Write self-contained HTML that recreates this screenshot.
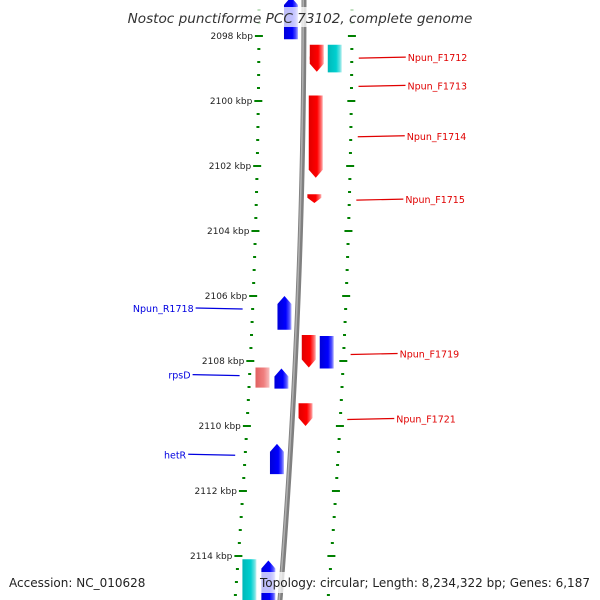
<!DOCTYPE html>
<html><head><meta charset="utf-8"><style>
body{margin:0;background:#fff;}
svg{display:block;font-family:"DejaVu Sans","Liberation Sans",sans-serif;}
</style></head><body>
<svg id="map" width="600" height="600" viewBox="0 0 600 600" xmlns="http://www.w3.org/2000/svg">
<defs>
<linearGradient id="gred" x1="0" x2="1"><stop offset="0" stop-color="#e00000"/><stop offset="0.6" stop-color="#ff0000"/><stop offset="0.85" stop-color="#ff6060"/><stop offset="1" stop-color="#ffb0b0"/></linearGradient>
<linearGradient id="gblue" x1="0" x2="1"><stop offset="0" stop-color="#0000d8"/><stop offset="0.6" stop-color="#0000ff"/><stop offset="0.85" stop-color="#5050ff"/><stop offset="1" stop-color="#b0b0ff"/></linearGradient>
<linearGradient id="gcyan" x1="0" x2="1"><stop offset="0" stop-color="#00b8b8"/><stop offset="0.6" stop-color="#00d0d0"/><stop offset="0.85" stop-color="#60e0e0"/><stop offset="1" stop-color="#c0f0f0"/></linearGradient>
<linearGradient id="gpink" x1="0" x2="1"><stop offset="0" stop-color="#e06060"/><stop offset="0.6" stop-color="#f08080"/><stop offset="1" stop-color="#f8c0c0"/></linearGradient>
</defs>
<g id="ticks"></g>
<path id="backbone" fill="none" stroke="#808080" stroke-width="5"/>
<path id="backbone-hl" fill="none" stroke="#b0b0b0" stroke-width="1.5"/>
<g id="genes"></g>
<g id="labels"></g>
<rect x="122" y="7" width="356" height="20" fill="#fff" opacity="0.75"/>
<text x="300" y="23" text-anchor="middle" font-size="13.6" font-style="italic" fill="#333">Nostoc punctiforme PCC 73102, complete genome</text>
<text x="9" y="587" font-size="12" fill="#222">Accession: NC_010628</text>
<rect x="258" y="572" width="334" height="21" fill="#fff" opacity="0.75"/>
<text x="260" y="587" font-size="12" fill="#222" textLength="330" lengthAdjust="spacingAndGlyphs">Topology: circular; Length: 8,234,322 bp; Genes: 6,187</text>
</svg>
<script>
// data
const majorTicks = [2098, 2100, 2102, 2104, 2106, 2108, 2110, 2112, 2114];
const tickLabels = ["2098 kbp","2100 kbp","2102 kbp","2104 kbp","2106 kbp","2108 kbp","2110 kbp","2112 kbp","2114 kbp"];
const geneStart = [2096.8, 2098.27, 2098.27, 2098.63, 2099.83, 2102.87, 2106.0, 2107.2, 2107.23, 2108.2, 2108.23, 2109.3, 2110.55, 2114.1, 2114.14];
const geneEnd   = [2098.1, 2099.1, 2099.12, 2098.87, 2102.36, 2103.14, 2107.04, 2108.2, 2108.23, 2108.82, 2108.85, 2110.0, 2111.48, 2115.5, 2115.5];
const geneStrand = [1, -1, 0, -1, -1, -1, 1, -1, 0, 0, 1, -1, 1, 0, 1];
const geneColor = ["blue","red","cyan","red","red","red","blue","red","blue","pink","blue","red","blue","cyan","blue"];
const geneLane = [-1, 1, 2, 1, 1, 1, -1, 1, 2, -2, -1, 1, -1, -2, -1];
const labelNames = ["Npun_F1712","Npun_F1713","Npun_F1714","Npun_F1715","Npun_R1718","Npun_F1719","rpsD","Npun_F1721","hetR"];
const labelKbp = [2098.68, 2099.55, 2101.1, 2103.05, 2106.4, 2107.8, 2108.45, 2109.8, 2110.9];
const labelSide = [1, 1, 1, 1, -1, 1, -1, 1, -1];

const NS = "http://www.w3.org/2000/svg";
const yOf = k => 36 + (k - 2098) * 32.5;
const bbX = y => 304 - 24 * Math.pow(y / 600, 2);
function mk(tag, attrs, parent){ const e = document.createElementNS(NS, tag); for (const a in attrs) e.setAttribute(a, attrs[a]); parent.appendChild(e); return e; }

// backbone
let d = "", d2 = "";
for (let y = -5; y <= 605; y += 5) {
  d += (d ? "L" : "M") + bbX(y).toFixed(2) + "," + y;
  d2 += (d2 ? "L" : "M") + (bbX(y) - 0.8).toFixed(2) + "," + y;
}
document.getElementById("backbone").setAttribute("d", d);
document.getElementById("backbone-hl").setAttribute("d", d2);

// ticks
const tg = document.getElementById("ticks");
for (let k = 2096; k <= 2116.01; k += 0.4) {
  const y = yOf(k);
  if (y < 0 || y > 600) continue;
  const major = Math.abs(Math.round(k / 2) * 2 - k) < 0.01;
  const w = major ? 8 : 3;
  for (const off of [-45, 48]) {
    const x = bbX(y) + off;
    const r = mk("rect", {x: x - w / 2, y: y - 1, width: w, height: 2, fill: "#008000"}, tg);
    
    
  }
}
majorTicks.forEach((k, i) => {
  const y = yOf(k);
  const t = mk("text", {x: bbX(y) - 51, y: y + 3, "text-anchor": "end", "font-size": "9", fill: "#222"}, tg);
  t.textContent = tickLabels[i];
  
  
});

// genes
const gg = document.getElementById("genes");
const laneOff = {"-2": -39, "-1": -20, "1": 6, "2": 24};
geneStart.forEach((s, i) => {
  const y1 = yOf(s), y2 = yOf(geneEnd[i]);
  const x = bbX((y1 + y2) / 2) + laneOff[geneLane[i]];
  const w = 14, h = y2 - y1, a = Math.min(8, h * 0.6);
  let pts;
  if (geneStrand[i] === -1) pts = [[x,y1],[x+w,y1],[x+w,y2-a],[x+w/2,y2],[x,y2-a]];
  else if (geneStrand[i] === 1) pts = [[x,y1+a],[x+w/2,y1],[x+w,y1+a],[x+w,y2],[x,y2]];
  else pts = [[x,y1],[x+w,y1],[x+w,y2],[x,y2]];
  const p = mk("polygon", {points: pts.map(q => q.join(",")).join(" "), fill: "url(#g" + geneColor[i] + ")"}, gg);
  
  
});

// labels
const lg = document.getElementById("labels");
labelNames.forEach((n, i) => {
  const y = yOf(labelKbp[i]);
  const bx = bbX(y);
  const col = labelSide[i] > 0 ? "#e00000" : "#0000e0";
  let x1, x2, tx, anchor;
  if (labelSide[i] > 0) { x1 = bx + 55; x2 = bx + 102; tx = x2 + 2; anchor = "start"; }
  else { x1 = bx - 55; x2 = x1 - 47; tx = x2 - 2; anchor = "end"; }
  const l = mk("line", {x1: x1, y1: y, x2: x2, y2: y - 1, stroke: col, "stroke-width": 1.2}, lg);
  
  
  const t = mk("text", {x: tx, y: y + 3, "text-anchor": anchor, "font-size": "9.5", fill: col}, lg);
  t.textContent = n;
  
  
});
</script>
</body></html>
